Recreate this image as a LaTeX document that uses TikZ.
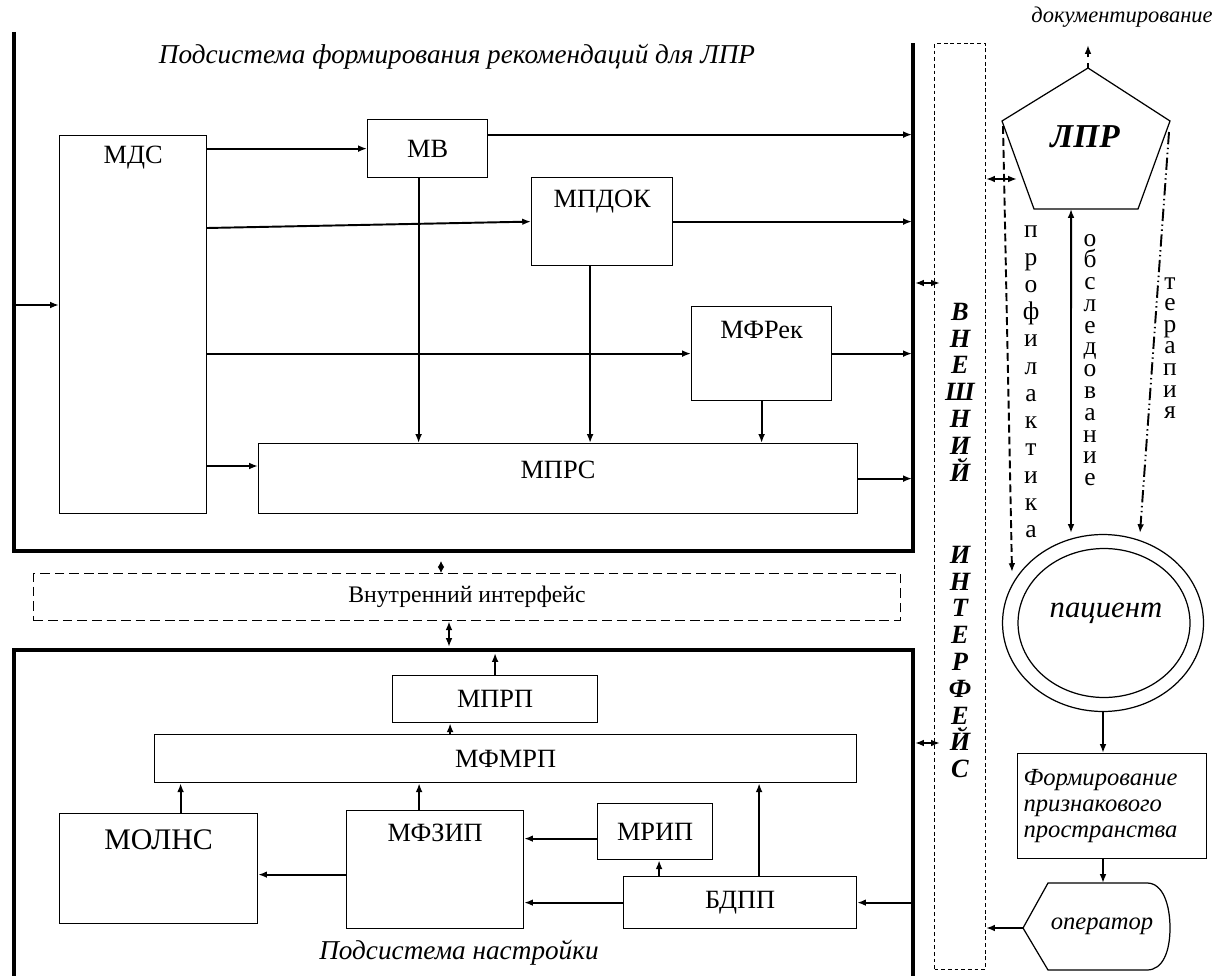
\documentclass[tikz,border=0pt]{standalone}
\usepackage{fontspec}
\setmainfont{Liberation Serif}
\usetikzlibrary{positioning,arrows.meta,calc,shapes.geometric}

\begin{document}
\begin{tikzpicture}[
    x=0.02cm, y=-0.02cm,
    box/.style={rectangle, draw, line width=0.7pt, inner sep=0pt, anchor=north west, font=\fontsize{15}{18}\selectfont},
    lbl/.style={font=\fontsize{15}{18}\selectfont},
    heading/.style={font=\fontsize{15.5}{18}\selectfont\itshape},
    thickframe/.style={line width=2.4pt},
    arrow/.style={-{Latex[length=5pt,width=3.8pt]}, line width=1.1pt},
    dblarrow/.style={{Latex[length=5pt,width=3.8pt]}-{Latex[length=5pt,width=3.8pt]}, line width=1.1pt},
    vword/.style={align=center, inner sep=0pt, font=\fontsize{14.5}{#1}\selectfont},
    vbold/.style={align=center, inner sep=0pt, font=\fontsize{15}{15.25}\selectfont\bfseries\itshape}
]
\useasboundingbox (0,0) rectangle (1223,976);

% Upper subsystem
\draw[thickframe] (14,32) |- (913,551) -- (913,43);
\coordinate (rline) at (912,0);
\node[heading] (ttop) at (457,57) {Подсистема формирования рекомендаций для ЛПР};

\node[box, minimum width=2.94cm, minimum height=7.56cm] (mds) at (59,135) {};
\node[lbl] (mds-t) at ($(mds.north)+(0,23)$) {МДС};
\node[box, minimum width=2.4cm, minimum height=1.16cm] (mv) at (367,119) {МВ};
\node[box, minimum width=2.82cm, minimum height=1.76cm] (mpdok) at (531,177) {};
\node[lbl] (mpdok-t) at ($(mpdok.north)+(0,25)$) {МПДОК};
\node[box, minimum width=2.8cm, minimum height=1.88cm] (mfrek) at (691,306) {};
\node[lbl] (mfrek-t) at ($(mfrek.north)+(0,24)$) {МФРек};
\node[box, minimum width=11.98cm, minimum height=1.4cm] (mprs) at (258,443) {};
\node[lbl] (mprs-t) at ($(mprs.north)+(0,27)$) {МПРС};

% Input and links from MDS
\coordinate (in1) at (15,305);
\draw[arrow] (in1) -- (in1 -| mds.west);
\draw[arrow] (mds.east |- mv.west) -- (mv.west);
\coordinate (h1) at ($(mds.north east)+(0,93)$);
\draw[arrow] (h1) -- (mpdok.west);
\draw[arrow] (mds.east |- mfrek.west) -- (mfrek.west);
\coordinate (h3) at ($(mds.north east)+(0,331)$);
\draw[arrow] (h3) -- (h3 -| mprs.west);

% Outputs to the frame
\coordinate (omv) at ($(mv.east)+(0,-14)$);
\draw[arrow] (omv) -- (omv -| rline);
\draw[arrow] (mpdok.east) -- (mpdok.east -| rline);
\draw[arrow] (mfrek.east) -- (mfrek.east -| rline);
\draw[arrow] (mprs.east) -- (mprs.east -| rline);

% Down to MPRS
\coordinate (v1) at ($(mv.south)+(-9,0)$);
\draw[arrow] (v1) -- (v1 |- mprs.north);
\coordinate (v2) at ($(mpdok.south)+(-12,0)$);
\draw[arrow] (v2) -- (v2 |- mprs.north);
\draw[arrow] (mfrek.south) -- (mfrek.south |- mprs.north);

% Internal interface
\node[box, dash pattern=on 5.5pt off 2.8pt, minimum width=17.34cm, minimum height=0.94cm,
      font=\fontsize{13.5}{16}\selectfont] (vint) at (33,573) {Внутренний интерфейс};
\coordinate (i1) at (441,561);
\draw[{Latex[length=3.5pt,width=3.8pt]}-{Latex[length=3.5pt,width=3.8pt]}, line width=1.1pt] (i1) -- (i1 |- vint.north);
\coordinate (i2) at (449,647);
\draw[dblarrow] (vint.south -| i2) -- (i2);

% Lower subsystem
\draw[thickframe] (14,976) |- (913,650) -- (913,976);
\coordinate (tline) at (0,653);
\node[heading] (tbot) at (459,953) {Подсистема настройки};

\node[box, minimum width=4.1cm, minimum height=0.94cm] (mprp) at (392,675) {МПРП};
\node[box, minimum width=14.04cm, minimum height=0.96cm] (mfmrp) at (154,734) {МФМРП};
\node[box, minimum width=3.96cm, minimum height=2.2cm] (molns) at (59,813) {};
\node[font=\fontsize{17}{20}\selectfont] (molns-t) at ($(molns.north)+(0,27)$) {МОЛНС};
\node[box, minimum width=3.54cm, minimum height=2.36cm] (mfzip) at (346,810) {};
\node[lbl] (mfzip-t) at ($(mfzip.north)+(0,23)$) {МФЗИП};
\node[box, minimum width=2.3cm, minimum height=1.12cm] (mrip) at (597,803) {МРИП};
\node[box, minimum width=4.66cm, minimum height=1.04cm] (bdpp) at (623,876) {БДПП};

\draw[arrow] (mprp.north) -- (mprp.north |- tline);
\coordinate (u1) at ($(mprp.south)+(-45,0)$);
\draw[arrow] (u1 |- mfmrp.north) -- (u1);
\coordinate (u2) at ($(molns.north)+(22,0)$);
\draw[arrow] (u2) -- (u2 |- mfmrp.south);
\coordinate (u3) at ($(mfzip.north)+(-16,0)$);
\draw[arrow] (u3) -- (u3 |- mfmrp.south);
\coordinate (u4) at ($(bdpp.north)+(-81,0)$);
\draw[arrow] (u4) -- (u4 |- mrip.south);
\coordinate (u5) at ($(bdpp.north)+(19,0)$);
\draw[arrow] (u5) -- (u5 |- mfmrp.south);
\coordinate (w1) at ($(mfzip.west)+(0,5)$);
\draw[arrow] (w1) -- (w1 -| molns.east);
\coordinate (w2) at ($(mrip.west)+(0,7)$);
\draw[arrow] (w2) -- (w2 -| mfzip.east);
\draw[arrow] (bdpp.west) -- (bdpp.west -| mfzip.east);
\draw[arrow] (bdpp.east -| rline) -- (bdpp.east);

% External interface
\node[box, line width=0.6pt, dash pattern=on 2.2pt off 1.6pt, minimum width=1.02cm, minimum height=18.52cm] (ext) at (934,43) {};
\node[vbold] (vneshn) at (960,392) {В\\Н\\Е\\Ш\\Н\\И\\Й};
\node[vbold] (interf) at (960,662) {И\\Н\\Т\\Е\\Р\\Ф\\Е\\Й\\С};
\coordinate (e1) at (915,283);
\draw[dblarrow] (e1) -- ($(e1 -| ext.west)+(6,0)$);
\coordinate (e2) at (915,743);
\draw[dblarrow] (e2) -- ($(e2 -| ext.west)+(6,0)$);

% Decision maker
\coordinate (p1) at (1088,68);
\coordinate (p2) at (1170,121);
\coordinate (p3) at (1138,209);
\coordinate (p4) at (1034,209);
\coordinate (p5) at (1002,121);
\draw[line width=0.7pt] (p1) -- (p2) -- (p3) -- (p4) -- (p5) -- cycle;
\node[font=\fontsize{19}{22}\selectfont\bfseries\itshape] (lpr) at (1085,137) {ЛПР};
\node[font=\fontsize{12.8}{15}\selectfont\itshape] (doc) at (1122,17) {документирование};
\draw[arrow, dashed] (p1) -- ++(0,-23);
\coordinate (pl) at (1017,179);
\draw[dblarrow] (pl -| ext.east) -- (pl);

% Patient
\node[ellipse, draw, line width=0.7pt, inner sep=0pt, minimum width=4.02cm, minimum height=3.54cm] (pato) at (1103,623) {};
\node[ellipse, draw, line width=0.7pt, inner sep=0pt, minimum width=3.44cm, minimum height=2.98cm] (pati) at (1104,623) {};
\node[font=\fontsize{17.5}{20}\selectfont\itshape] (pat) at (1106,613) {пациент};

% Actions of the decision maker
\coordinate (pr0) at (1003,126);
\coordinate (pr1) at (1012,572);
\draw[arrow, dash pattern=on 4.5pt off 2.3pt] (pr0) -- (pr1);
\coordinate (ob0) at ($(p4)!0.356!(p3)$);
\coordinate (ob1) at (1071,533);
\draw[dblarrow] (ob0) -- (ob1);
\coordinate (te0) at (1169,132);
\coordinate (te1) at (1140,533);
\draw[arrow, dash pattern=on 7pt off 2pt on 0.8pt off 2pt on 0.8pt off 2pt] (te0) -- (te1);
\node[vword=15.5] (prof) at (1031,382) {п\\р\\о\\ф\\и\\л\\а\\к\\т\\и\\к\\а};
\node[vword=12.4] (obsl) at (1090,360) {о\\б\\с\\л\\е\\д\\о\\в\\а\\н\\и\\е};
\node[vword=12.3] (ter) at (1170,348) {т\\е\\р\\а\\п\\и\\я};

% Feature space and operator
\node[box, minimum width=3.78cm, minimum height=2.1cm, text width=3.54cm, inner xsep=0.12cm, align=left,
      font=\fontsize{14}{15}\selectfont\itshape] (form) at (1017,753) {Формирование\\признакового\\пространства};
\draw[arrow] (pato.south) -- (pato.south |- form.north);
\coordinate (o1) at (1023,928);
\coordinate (o2) at (1048,883);
\coordinate (o3) at (1147,883);
\coordinate (o4) at (1170,928);
\coordinate (o5) at (1147,970);
\coordinate (o6) at (1048,970);
\draw[line width=0.7pt] (o1) -- (o2) -- (o3) .. controls (1163,883) and (1170,905) .. (o4)
    .. controls (1170,951) and (1163,970) .. (o5) -- (o6) -- cycle;
\node[font=\fontsize{14}{16}\selectfont\itshape] (op) at (1102,926) {оператор};
\draw[arrow] (form.south -| pato.south) -- (pato.south |- o2);
\draw[arrow] (o1) -- (o1 -| ext.east);

\end{tikzpicture}
\end{document}
